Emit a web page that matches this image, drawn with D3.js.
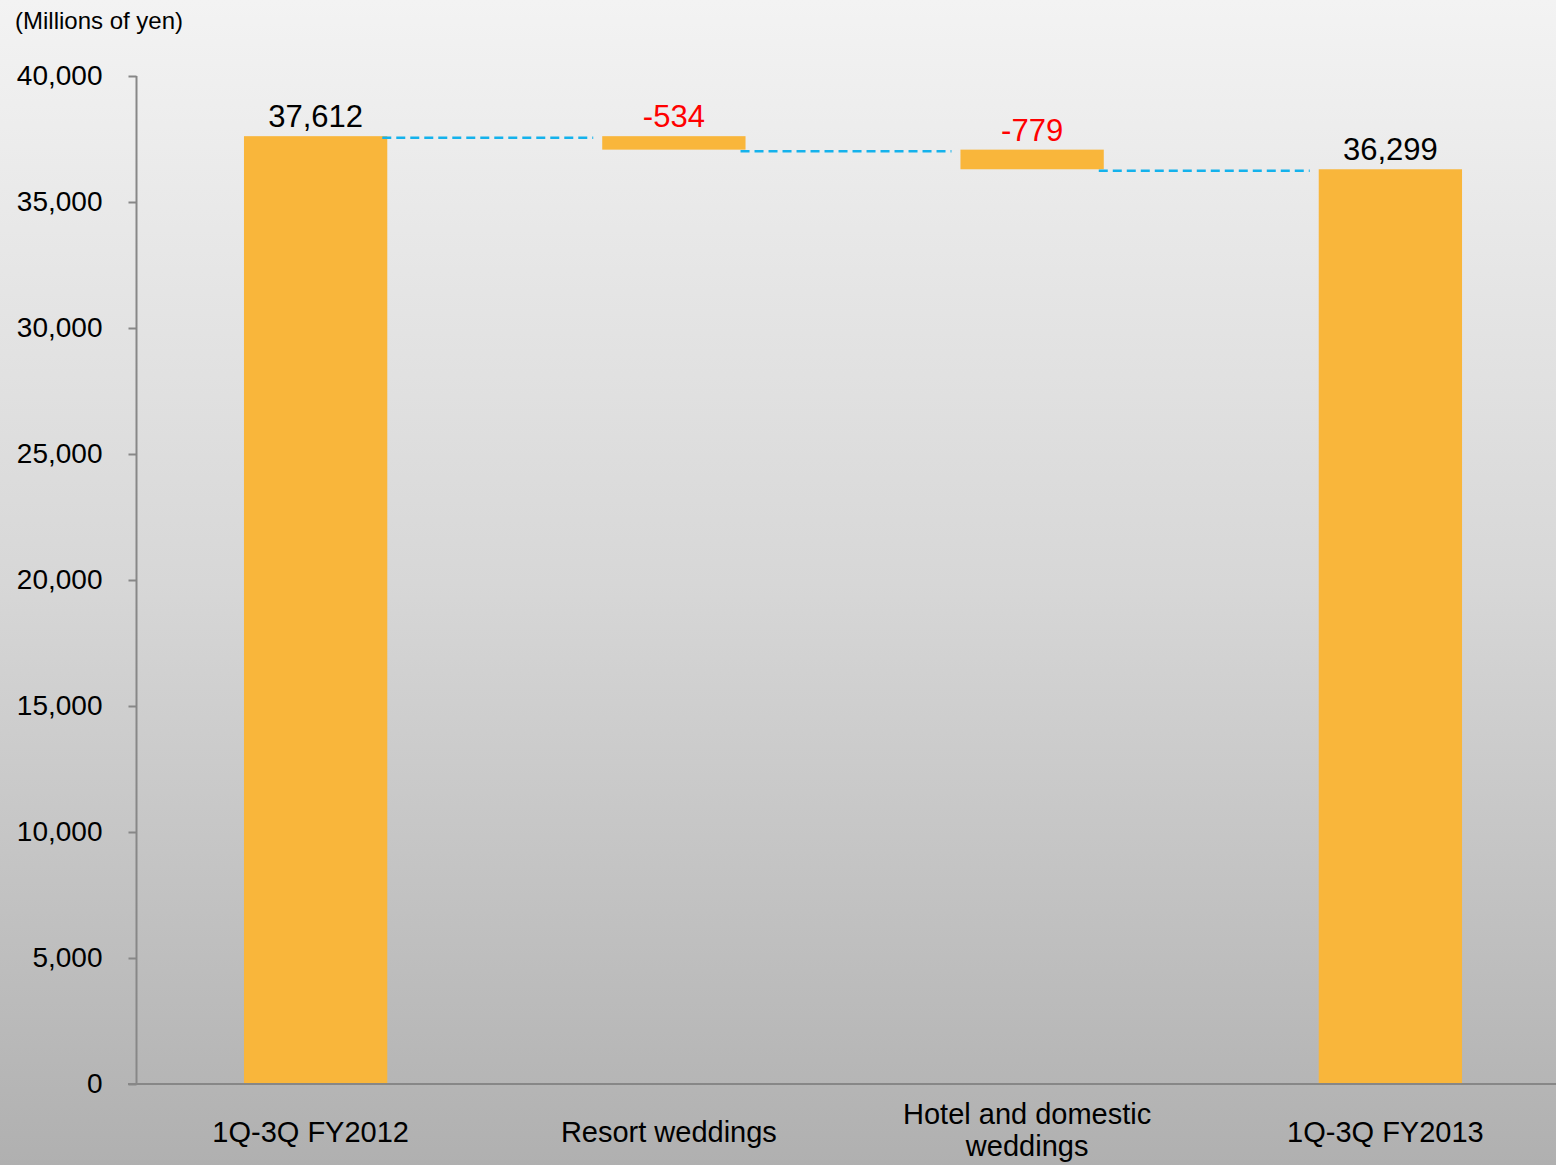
<!DOCTYPE html>
<html>
<head>
<meta charset="utf-8">
<script src="https://cdn.jsdelivr.net/npm/d3@7"></script>
<style>
  html, body { margin: 0; padding: 0; background: #fff; }
  svg { display: block; font-family: "Liberation Sans", Arial, sans-serif; }
</style>
</head>
<body>
<svg id="chart" width="1556" height="1165"></svg>
<script>
// Waterfall: operating revenue bridge, 1Q-3Q FY2012 -> 1Q-3Q FY2013
const categories = ["1Q-3Q FY2012", "Resort weddings", "Hotel and domestic weddings", "1Q-3Q FY2013"];
const stepKinds  = ["total", "delta", "delta", "total"];
const stepValues = [37612, -534, -779, 36299];
const yTicks     = [0, 5000, 10000, 15000, 20000, 25000, 30000, 35000, 40000];
const unitLabel  = "(Millions of yen)";

const W = 1556, H = 1165;
const svg = d3.select("#chart");

// number format with a plain hyphen for negatives
const fmt = d3.formatLocale({ decimal: ".", thousands: ",", grouping: [3], currency: ["", ""], minus: "-" }).format(",");

// background: light grey fading darker towards the bottom
const defs = svg.append("defs");
const grad = defs.append("linearGradient")
  .attr("id", "bg").attr("x1", 0).attr("y1", 0).attr("x2", 0).attr("y2", 1);
grad.append("stop").attr("offset", "0%").attr("stop-color", "#f3f3f3");
grad.append("stop").attr("offset", "50%").attr("stop-color", "#d7d7d7");
grad.append("stop").attr("offset", "100%").attr("stop-color", "#b0b0b0");
svg.append("rect").attr("width", W).attr("height", H).attr("fill", "url(#bg)");

const x = d3.scaleBand()
  .domain(categories)
  .range([136.5, 1569.5])
  .paddingInner(0.6)
  .paddingOuter(0.3);

const y = d3.scaleLinear().domain([0, 40000]).range([1084, 76]);

// build floating segments from running total
let running = 0;
const steps = categories.map((c, i) => {
  let lo, hi, end;
  if (stepKinds[i] === "total") {
    lo = 0; hi = stepValues[i]; end = stepValues[i];
  } else {
    const start = running;
    end = running + stepValues[i];
    lo = Math.min(start, end); hi = Math.max(start, end);
  }
  running = end;
  return { cat: c, kind: stepKinds[i], value: stepValues[i], lo, hi, end };
});

// y axis
const yAxis = svg.append("g")
  .attr("transform", "translate(136.5,0)")
  .call(d3.axisLeft(y).tickValues(yTicks).tickFormat(fmt).tickSize(8).tickPadding(26));
yAxis.select(".domain").attr("stroke", "#878787").attr("stroke-width", 2)
  .attr("d", `M0,${y(40000)}H0V${y(0)}`);
yAxis.selectAll(".tick line").attr("stroke", "#878787").attr("stroke-width", 2);
yAxis.selectAll(".tick text").attr("fill", "#000").style("font-size", "28px")
  .style("font-family", "'Liberation Sans', Arial, sans-serif");

// bars
svg.append("g").selectAll("rect").data(steps).join("rect")
  .attr("x", d => x(d.cat))
  .attr("width", x.bandwidth())
  .attr("y", d => y(d.hi))
  .attr("height", d => y(d.lo) - y(d.hi))
  .attr("fill", "#f9b63b");

// x axis line (drawn over bar bottoms)
svg.append("line")
  .attr("x1", 128).attr("x2", W)
  .attr("y1", y(0)).attr("y2", y(0))
  .attr("stroke", "#878787").attr("stroke-width", 2);

// dashed connectors between consecutive steps
const links = steps.slice(0, -1).map((d, i) => ({ from: d, to: steps[i + 1], level: d.end }));
svg.append("g").selectAll("line").data(links).join("line")
  .attr("x1", d => x(d.from.cat) + x.bandwidth() - 5)
  .attr("x2", d => x(d.to.cat) - 9)
  .attr("y1", d => y(d.level) + 1.5)
  .attr("y2", d => y(d.level) + 1.5)
  .attr("stroke", "#14b2ec")
  .attr("stroke-width", 2.5)
  .attr("stroke-dasharray", "9,5");

// value labels
svg.append("g").selectAll("text").data(steps).join("text")
  .attr("x", d => x(d.cat) + x.bandwidth() / 2)
  .attr("y", d => y(d.hi) - 9)
  .attr("text-anchor", "middle")
  .style("font-size", "31px")
  .attr("fill", d => d.kind === "delta" ? "#ff0000" : "#000")
  .text(d => fmt(d.value));

// category labels (wrapped where long)
const catLines = {
  "Hotel and domestic weddings": ["Hotel and domestic", "weddings"]
};
const xl = svg.append("g").selectAll("text").data(categories).join("text")
  .attr("text-anchor", "middle")
  .style("font-size", "29px")
  .attr("fill", "#000")
  .attr("transform", d => `translate(${x(d) + x.bandwidth() / 2 - 5},0)`);
xl.each(function (d) {
  const lines = catLines[d] || [d];
  const t = d3.select(this);
  const base = lines.length === 1 ? 1142 : 1124;
  lines.forEach((ln, k) => {
    t.append("tspan").attr("x", 0).attr("y", base + k * 32).text(ln);
  });
});

// unit caption
svg.append("text")
  .attr("x", 15).attr("y", 29)
  .style("font-size", "24px")
  .attr("fill", "#000")
  .text(unitLabel);
</script>
</body>
</html>
